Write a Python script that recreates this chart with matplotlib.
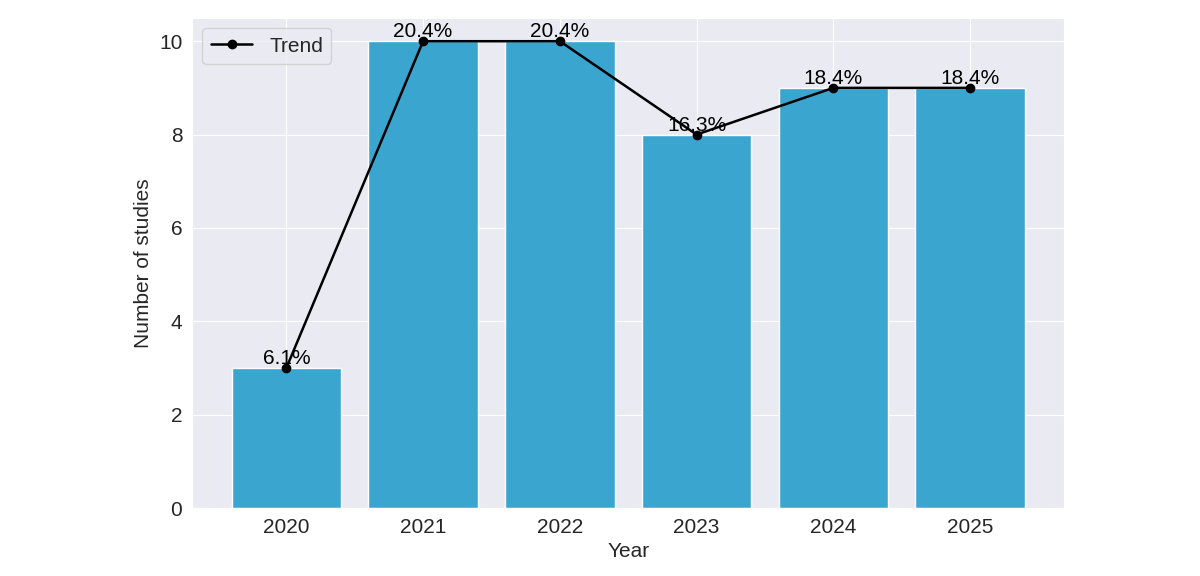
import matplotlib.pyplot as plt
import seaborn as sns
import numpy as np

sns.set_style("darkgrid")
plt.rcParams['font.family'] = ['Liberation Sans', 'DejaVu Sans']

years = ['2020', '2021', '2022', '2023', '2024', '2025']
counts = [3, 10, 10, 8, 9, 9]
pct = [6.1, 20.4, 20.4, 16.3, 18.4, 18.4]

bar_color = "#3aa6d0"

fig = plt.figure(figsize=(12, 5.76), dpi=100)
ax = fig.add_axes([0.16, 0.118, 0.727, 0.851])

x = np.arange(len(years))
ax.bar(x, counts, width=0.8, color=bar_color, edgecolor='white')
ax.plot(x, counts, color='black', marker='o', markersize=6, linewidth=1.8, label='Trend')

for i in range(len(x)):
    ax.text(x[i], counts[i], f'{pct[i]:.1f}%', ha='center', va='bottom', fontsize=15, color='black')

ax.set_xticks(x)
ax.set_xticklabels(years)
ax.tick_params(labelsize=15)
ax.set_xlabel('Year', fontsize=15)
ax.set_ylabel('Number of studies', fontsize=15)
ax.legend(loc='upper left', fontsize=15)

fig.savefig('out.png', dpi=100)
